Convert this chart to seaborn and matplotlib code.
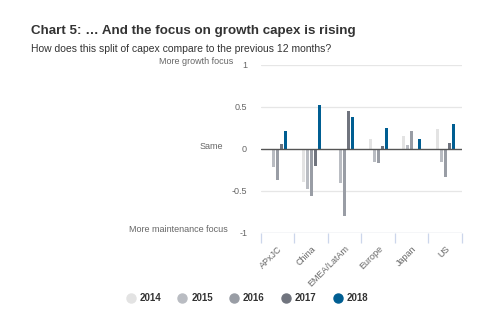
import matplotlib
matplotlib.use("Agg")
import matplotlib.pyplot as plt
from matplotlib.lines import Line2D
import seaborn as sns
import pandas as pd
import numpy as np

regions = ["APxJC", "China", "EMEA/LatAm", "Europe", "Japan", "US"]
years = ["2014", "2015", "2016", "2017", "2018"]
v2014 = [0.0, -0.39, 0.0, 0.12, 0.16, 0.24]
v2015 = [-0.22, -0.48, -0.40, -0.15, 0.05, -0.15]
v2016 = [-0.37, -0.56, -0.80, -0.17, 0.21, -0.33]
v2017 = [0.06, -0.20, 0.45, 0.04, 0.0, 0.07]
v2018 = [0.21, 0.52, 0.38, 0.25, 0.12, 0.30]
yticks = [-1, -0.5, 0, 0.5, 1]
ytick_labels = ["-1", "-0.5", "0", "0.5", "1"]
axis_labels = ["More maintenance focus", "Same", "More growth focus"]
colors = ["#e3e3e3", "#b9bcc2", "#999da5", "#70747e", "#005e92"]

rows = []
for y, vals in zip(years, [v2014, v2015, v2016, v2017, v2018]):
    for r, v in zip(regions, vals):
        rows.append({"region": r, "year": y, "value": v})
df = pd.DataFrame(rows)

sns.set_theme(style="white")
plt.rcParams["font.family"] = ["Liberation Sans", "DejaVu Sans"]

fig = plt.figure(figsize=(4.81, 3.22), dpi=100)
ax = fig.add_axes([261 / 481, 1 - 233 / 322, 201 / 481, 168 / 322])

sns.barplot(data=df, x="region", y="value", hue="year", order=regions,
            hue_order=years, palette=colors, width=0.6, gap=0.2,
            ax=ax, legend=False, saturation=1, linewidth=0)

ax.set_xlim(-0.5, len(regions) - 0.5)
ax.set_ylim(-1, 1)
ax.set_xlabel("")
ax.set_ylabel("")
for s in ["top", "right", "left", "bottom"]:
    ax.spines[s].set_visible(False)

ax.set_yticks(yticks)
ax.set_yticklabels(ytick_labels, fontsize=6.5, color="#666666")
ax.tick_params(axis="y", length=0, pad=10)
for yv in yticks:
    if yv == 0:
        continue
    ax.axhline(yv, color="#e6e6e6", lw=0.9, zorder=0)
ax.axhline(-1, color="#ccd6eb", lw=0.9, zorder=0)
ax.axhline(0, color="#555555", lw=1.0, zorder=3)

ax.set_xticks(range(len(regions)))
ax.set_xticklabels(regions, rotation=45, ha="right", rotation_mode="anchor",
                   fontsize=6.5, color="#666666")
ax.tick_params(axis="x", length=0, pad=8)
ax.set_xticks(np.arange(-0.5, len(regions)), minor=True)
ax.tick_params(axis="x", which="minor", length=7, width=0.9, color="#ccd6eb",
               direction="out", bottom=True)

# secondary y-axis labels
fig.text(233 / 481, 1 - 62 / 322, axis_labels[2], ha="right", va="center",
         fontsize=6.5, color="#666666")
fig.text(223 / 481, 1 - 146 / 322, axis_labels[1], ha="right", va="center",
         fontsize=6.5, color="#666666")
fig.text(228 / 481, 1 - 230 / 322, axis_labels[0], ha="right", va="center",
         fontsize=6.5, color="#666666")

fig.text(31 / 481, 1 - 31 / 322, "Chart 5: \u2026 And the focus on growth capex is rising",
         ha="left", va="center", fontsize=9.6, fontweight="bold", color="#333333")
fig.text(31 / 481, 1 - 49 / 322, "How does this split of capex compare to the previous 12 months?",
         ha="left", va="center", fontsize=7.5, color="#333333")

handles = [Line2D([0], [0], marker="o", color="none", markerfacecolor=c,
                  markeredgecolor=c, markersize=6.5) for c in colors]
fig.legend(handles, years, loc="center", bbox_to_anchor=(247 / 481, 1 - 298 / 322),
           ncol=5, frameon=False, handletextpad=0.4, columnspacing=1.7,
           prop={"size": 7, "weight": "bold"}, labelcolor="#333333",
           handlelength=1.0)

fig.savefig("out.png", dpi=100)
